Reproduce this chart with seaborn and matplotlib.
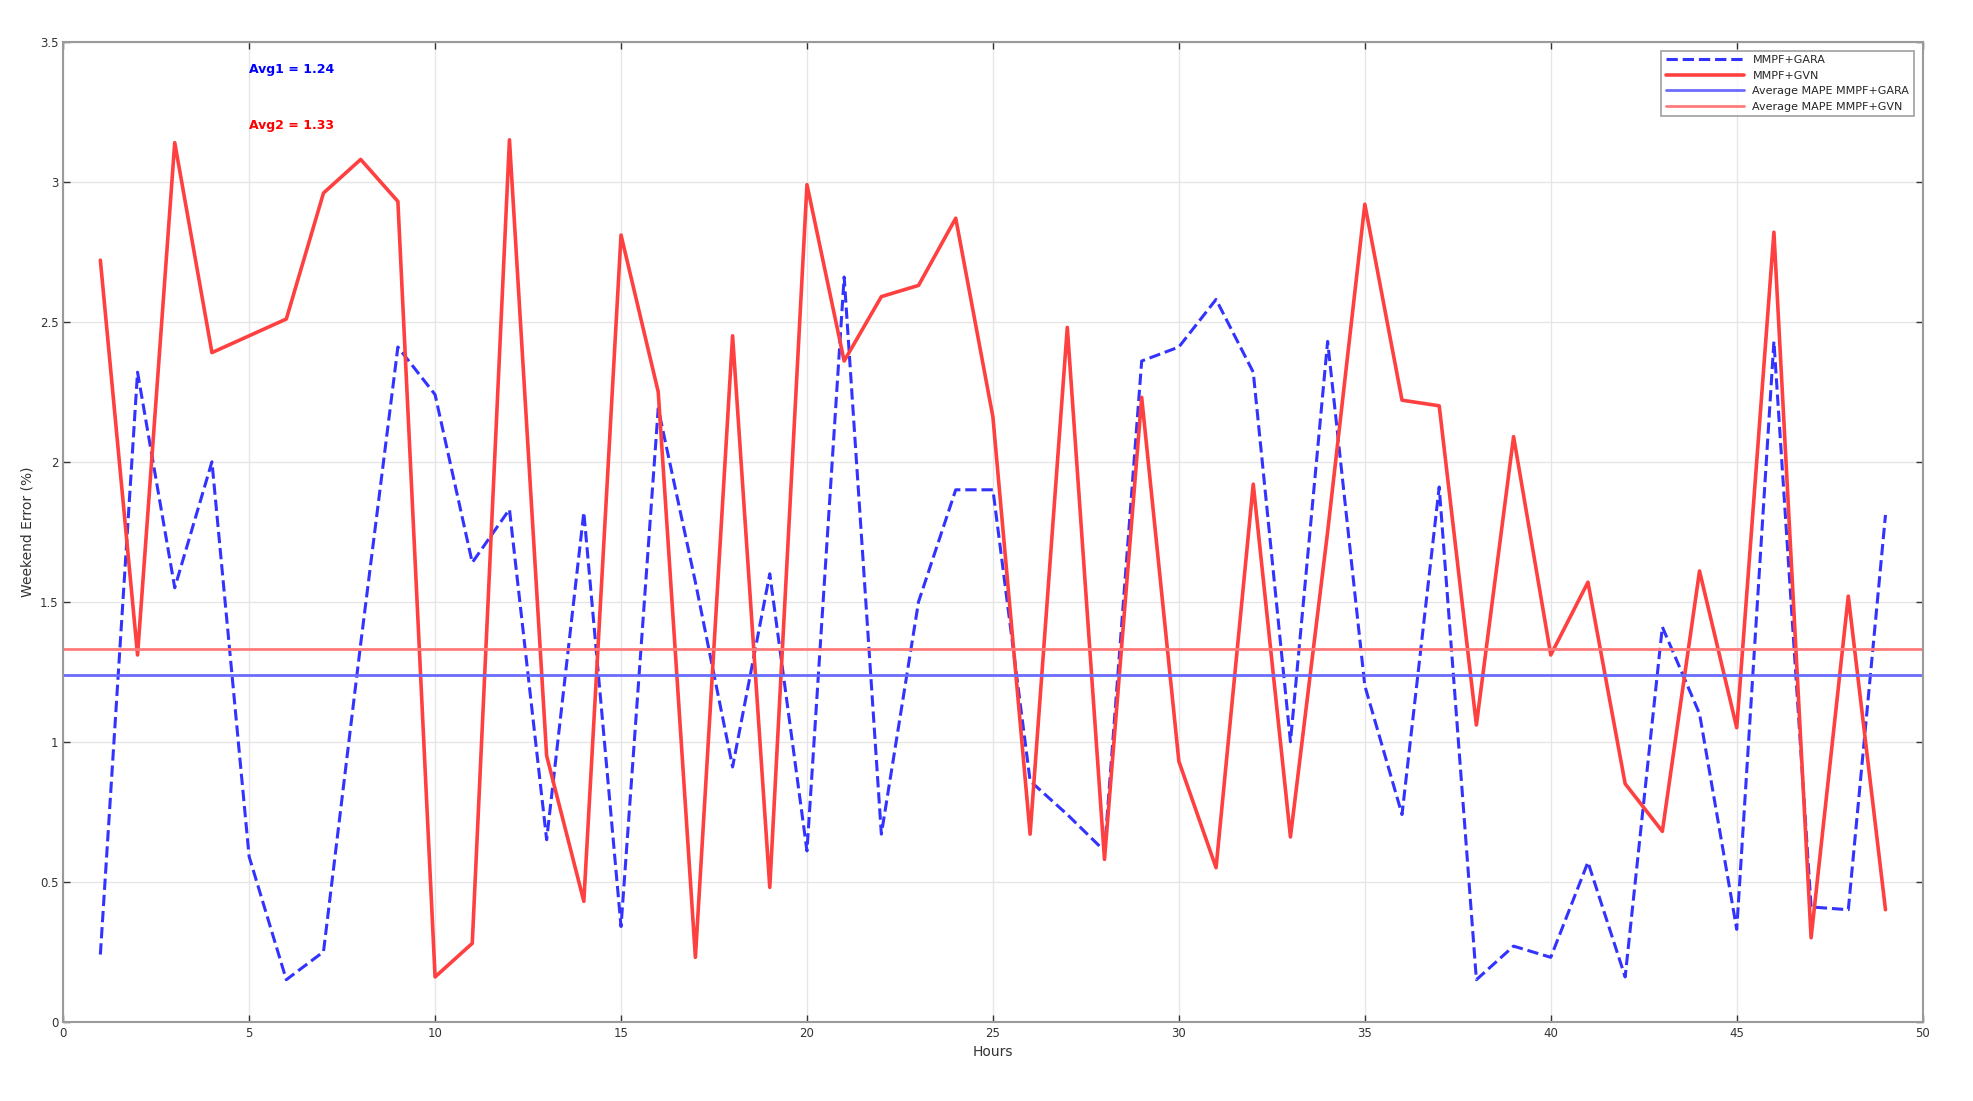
import numpy as np
import pandas as pd
import matplotlib.pyplot as plt
import seaborn as sns

sns.set_theme(style="whitegrid", context="paper")
plt.rcParams['font.family'] = ['DejaVu Sans']

hours = list(range(1, 50))

err_gara = [0.24, 2.32, 1.55, 2.00, 0.59, 0.15, 0.25, 1.35, 2.41, 2.24,
            1.64, 1.83, 0.65, 1.82, 0.34, 2.19, 1.57, 0.91, 1.60, 0.61,
            2.66, 0.67, 1.50, 1.90, 1.90, 0.86, 0.74, 0.61, 2.36, 2.41,
            2.58, 2.32, 1.00, 2.43, 1.20, 0.74, 1.91, 0.15, 0.27, 0.23,
            0.57, 0.16, 1.41, 1.10, 0.33, 2.43, 0.41, 0.40, 1.81]

err_gvn = [2.72, 1.31, 3.14, 2.39, 2.45, 2.51, 2.96, 3.08, 2.93, 0.16,
           0.28, 3.15, 0.95, 0.43, 2.81, 2.25, 0.23, 2.45, 0.48, 2.99,
           2.36, 2.59, 2.63, 2.87, 2.16, 0.67, 2.48, 0.58, 2.23, 0.93,
           0.55, 1.92, 0.66, 1.75, 2.92, 2.22, 2.20, 1.06, 2.09, 1.31,
           1.57, 0.85, 0.68, 1.61, 1.05, 2.82, 0.30, 1.52, 0.40]

avg_gara = 1.24
avg_gvn = 1.33

df = pd.DataFrame({'Hours': hours, 'GARA': err_gara, 'GVN': err_gvn})

fig = plt.figure(figsize=(19.74, 11.01), dpi=100)
ax = fig.add_axes([0.032, 0.072, 0.942, 0.890])

sns.lineplot(data=df, x='Hours', y='GARA', ax=ax, color='#3333ff',
             linestyle='--', linewidth=2.2, label='MMPF+GARA')
sns.lineplot(data=df, x='Hours', y='GVN', ax=ax, color='#ff4040',
             linewidth=2.6, label='MMPF+GVN')
ax.axhline(avg_gara, color='#6b6bff', linewidth=2, label='Average MAPE MMPF+GARA')
ax.axhline(avg_gvn, color='#ff7b7b', linewidth=2, label='Average MAPE MMPF+GVN')

ax.text(5, 3.39, f'Avg1 = {avg_gara:.2f}', color='blue', fontsize=9, fontweight='bold')
ax.text(5, 3.19, f'Avg2 = {avg_gvn:.2f}', color='red', fontsize=9, fontweight='bold')

ax.set_xlim(0, 50)
ax.set_ylim(0, 3.5)
ax.set_xticks(range(0, 51, 5))
ax.set_yticks(np.arange(0, 3.51, 0.5))
ax.set_yticklabels(['0', '0.5', '1', '1.5', '2', '2.5', '3', '3.5'])
ax.set_xlabel('Hours', fontsize=10, color='#333333')
ax.set_ylabel('Weekend Error (%)', fontsize=10, color='#333333')
ax.tick_params(direction='in', length=5, labelsize=8.5, colors='#333333',
               bottom=True, left=True, top=True, right=True)
ax.grid(True, color='#e6e6e6', linewidth=1)
for s in ax.spines.values():
    s.set_visible(True)
    s.set_color('#9a9a9a')
    s.set_linewidth(1.5)

leg = ax.legend(loc='upper right', fontsize=8, frameon=True, fancybox=False,
                edgecolor='#888888', borderaxespad=0.8, handlelength=7)
leg.get_frame().set_linewidth(1.2)

fig.savefig('out.png', dpi=100, facecolor='white')
